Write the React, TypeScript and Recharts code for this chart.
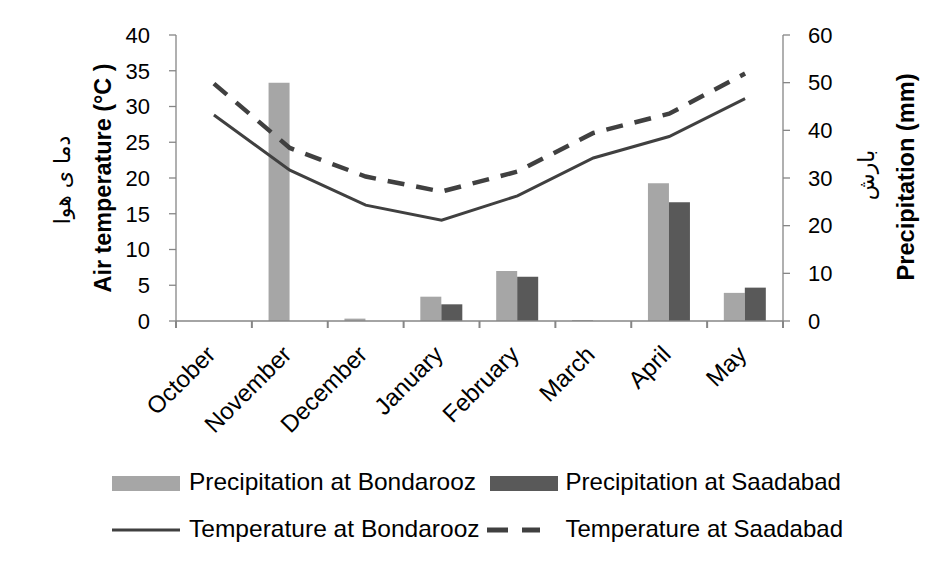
import React from 'react';
import { ComposedChart, Bar, Line, XAxis, YAxis, Legend } from 'recharts';

const months = ['October', 'November', 'December', 'January', 'February', 'March', 'April', 'May'];
const precipBondarooz = [0, 50.0, 0.5, 5.1, 10.5, 0.2, 28.9, 5.9];
const precipSaadabad = [0, 0, 0, 3.5, 9.3, 0, 24.9, 7.0];
const tempBondarooz = [28.8, 21.1, 16.2, 14.1, 17.5, 22.8, 25.8, 31.1];
const tempSaadabad = [33.2, 24.2, 20.2, 18.1, 20.9, 26.3, 29.0, 34.6];
const tempTicks = [0, 5, 10, 15, 20, 25, 30, 35, 40];
const precipTicks = [0, 10, 20, 30, 40, 50, 60];

const data = months.map((m, i) => ({
  month: m,
  pB: precipBondarooz[i],
  pS: precipSaadabad[i],
  tB: tempBondarooz[i],
  tS: tempSaadabad[i],
}));

const CHART_W = 924;
const CHART_H = 546;
const LEFT_W = 168;
const RIGHT_W = 149;
const BAND = (CHART_W - LEFT_W - RIGHT_W) / months.length;

const FONT = '"Liberation Sans", Arial, sans-serif';
const FA_FONT = '"DejaVu Sans", sans-serif';
const LIGHT = '#a6a6a6';
const DARK = '#595959';
const LINE = '#404040';
const AXIS = '#868686';

const renderXTick = (props: any) => {
  const { x, y, payload } = props;
  const label = String(payload.value);
  const i = months.indexOf(label);
  const isLast = i === months.length - 1;
  const lx = x - BAND / 2;
  const rx = x + BAND / 2;
  return (
    <g key={`xt-${label}`}>
      <rect x={lx - 1} y={y} width={2} height={7} fill={AXIS} />
      {isLast && <rect x={rx - 1} y={y} width={2} height={7} fill={AXIS} />}
      <g transform={`translate(${x + 3},${y + 35})`}>
        <text textAnchor="end" transform="rotate(-45)" fontSize={24} fontFamily={FONT} fill="#000">
          {label}
        </text>
      </g>
    </g>
  );
};

const LeftTitle = (props: any) => {
  const vb = props.viewBox || { x: 0, y: 27, width: 168, height: 286 };
  const cy = vb.y + vb.height / 2;
  return (
    <g>
      <text
        transform={`translate(94,${cy}) rotate(-90)`}
        textAnchor="middle"
        dominantBaseline="central"
        fontSize={24}
        fontWeight="bold"
        fontFamily={FONT}
        fill="#000"
        textLength={229}
        lengthAdjust="spacingAndGlyphs"
      >
        Air temperature (°C )
      </text>
      <text
        transform={`translate(54,${cy + 2}) rotate(-90)`}
        textAnchor="middle"
        dominantBaseline="central"
        fontSize={22}
        fontFamily={FA_FONT}
        fill="#000"
        direction="rtl"
      >
        دما ی هوا
      </text>
    </g>
  );
};

const RightTitle = (props: any) => {
  const vb = props.viewBox || { x: 775, y: 27, width: 149, height: 286 };
  const cy = vb.y + vb.height / 2;
  return (
    <g>
      <text
        transform={`translate(897,${cy - 1}) rotate(-90)`}
        textAnchor="middle"
        dominantBaseline="central"
        fontSize={24}
        fontWeight="bold"
        fontFamily={FONT}
        fill="#000"
        textLength={207}
        lengthAdjust="spacingAndGlyphs"
      >
        Precipitation (mm)
      </text>
      <text
        transform={`translate(858,${cy - 3}) rotate(-90)`}
        textAnchor="middle"
        dominantBaseline="central"
        fontSize={22}
        fontFamily={FA_FONT}
        fill="#000"
        direction="rtl"
      >
        بارش
      </text>
    </g>
  );
};

const LegendContent = () => (
  <svg width={924} height={100} style={{ display: 'block' }}>
    <rect x={104} y={28} width={68} height={15} fill={LIGHT} />
    <text x={181} y={42} fontSize={24} fontFamily={FONT} fill="#000" textLength={287} lengthAdjust="spacingAndGlyphs">
      Precipitation at Bondarooz
    </text>
    <rect x={482} y={28} width={68} height={15} fill={DARK} />
    <text x={557.5} y={42} fontSize={24} fontFamily={FONT} fill="#000" textLength={275.5} lengthAdjust="spacingAndGlyphs">
      Precipitation at Saadabad
    </text>
    <line x1={104} x2={172} y1={82} y2={82} stroke={LINE} strokeWidth={3} />
    <text x={181} y={89} fontSize={24} fontFamily={FONT} fill="#000" textLength={290.6} lengthAdjust="spacingAndGlyphs">
      Temperature at Bondarooz
    </text>
    <line x1={479} x2={532} y1={82} y2={82} stroke={LINE} strokeWidth={5} strokeDasharray="21 14" />
    <text x={557.5} y={89} fontSize={24} fontFamily={FONT} fill="#000" textLength={277.5} lengthAdjust="spacingAndGlyphs">
      Temperature at Saadabad
    </text>
  </svg>
);

export default function App() {
  return (
    <div
      style={{
        position: 'relative',
        width: CHART_W,
        height: CHART_H,
        boxShadow: '-1px -2px 0 0 #a6a6a6',
      }}
    >
      <ComposedChart
        width={CHART_W}
        height={CHART_H}
        data={data}
        margin={{ top: 27, right: 0, bottom: 132, left: 0 }}
        barCategoryGap="22%"
        barGap={0}
      >
        <XAxis
          xAxisId="cat"
          dataKey="month"
          height={1}
          axisLine={{ stroke: AXIS, strokeWidth: 1.3 }}
          tickLine={false}
          tickSize={0}
          tickMargin={0}
          tick={renderXTick}
          interval={0}
        />
        <YAxis
          yAxisId="t"
          orientation="left"
          width={LEFT_W}
          domain={[0, 40]}
          ticks={tempTicks}
          axisLine={{ stroke: AXIS, strokeWidth: 1.3 }}
          tickLine={{ stroke: AXIS, strokeWidth: 1.3 }}
          tickSize={7}
          tickMargin={19}
          tick={{ fill: '#000', fontSize: 22, fontFamily: FONT }}
          label={<LeftTitle />}
        />
        <YAxis
          yAxisId="p"
          orientation="right"
          width={RIGHT_W}
          domain={[0, 60]}
          ticks={precipTicks}
          axisLine={{ stroke: AXIS, strokeWidth: 1.3 }}
          tickLine={{ stroke: AXIS, strokeWidth: 1.3 }}
          tickSize={7}
          tickMargin={18}
          tick={{ fill: '#000', fontSize: 22, fontFamily: FONT, textAnchor: 'start' }}
          label={<RightTitle />}
        />
        <Bar xAxisId="cat" yAxisId="p" dataKey="pB" name="Precipitation at Bondarooz" fill={LIGHT} isAnimationActive={false} />
        <Bar xAxisId="cat" yAxisId="p" dataKey="pS" name="Precipitation at Saadabad" fill={DARK} isAnimationActive={false} />
        <Line
          xAxisId="cat"
          yAxisId="t"
          type="linear"
          dataKey="tB"
          name="Temperature at Bondarooz"
          stroke={LINE}
          strokeWidth={3}
          dot={false}
          activeDot={false}
          isAnimationActive={false}
        />
        <Line
          xAxisId="cat"
          yAxisId="t"
          type="linear"
          dataKey="tS"
          name="Temperature at Saadabad"
          stroke={LINE}
          strokeWidth={4.5}
          strokeDasharray="17 12"
          dot={false}
          activeDot={false}
          isAnimationActive={false}
        />
        <Legend
          content={<LegendContent />}
          verticalAlign="bottom"
          wrapperStyle={{ top: 440, left: 0, bottom: 'auto', width: 924, height: 100 }}
        />
      </ComposedChart>
    </div>
  );
}
